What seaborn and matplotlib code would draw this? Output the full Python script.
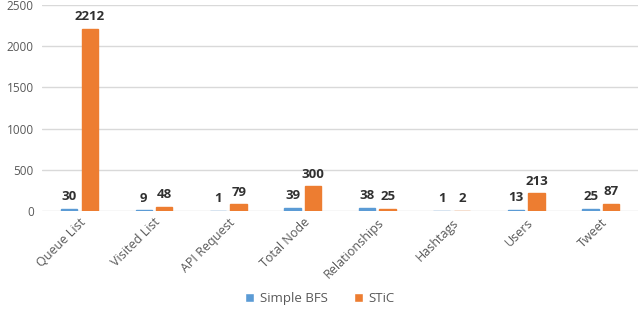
import matplotlib
matplotlib.use("Agg")
from matplotlib import pyplot as plt
import seaborn as sns
import pandas as pd

categories = ['Queue List', 'Visited List', 'API Request', 'Total Node',
              'Relationships', 'Hashtags', 'Users', 'Tweet']
simple_bfs = [30, 9, 1, 39, 38, 1, 13, 25]
stic = [2212, 48, 79, 300, 25, 2, 213, 87]
series = ['Simple BFS', 'STiC']
yticks = [0, 500, 1000, 1500, 2000, 2500]

df = pd.DataFrame({
    'Category': categories * 2,
    'Value': simple_bfs + stic,
    'Series': [series[0]] * len(categories) + [series[1]] * len(categories),
})

sns.set_style('white')
plt.rcParams['font.family'] = ['Open Sans', 'DejaVu Sans']
text_color = '#595959'
colors = ['#5B9BD5', '#ED7D31']

fig = plt.figure(figsize=(6.4, 3.14), dpi=100)
ax = fig.add_axes([0.066, 0.328, 0.931, 0.656])
sns.barplot(data=df, x='Category', y='Value', hue='Series',
            palette=colors, width=0.55, gap=0.2, saturation=1, ax=ax,
            legend=True)

# thin outline in the bar colour so the tiny values stay visible
for cont, c in zip(ax.containers, colors):
    for p in cont:
        p.set_edgecolor(c)
        p.set_linewidth(1)
    ax.bar_label(cont, padding=4, fontsize=9.5, fontweight='bold', color='#303030')

ax.set_ylim(0, 2500)
ax.set_yticks(yticks)
ax.set_xlim(-0.5, len(categories) - 0.5)
ax.yaxis.grid(True, color='#D9D9D9', linewidth=1)
ax.set_axisbelow(True)
for s in ax.spines.values():
    s.set_visible(False)
ax.set_xlabel('')
ax.set_ylabel('')
ax.tick_params(axis='both', length=0, labelsize=9, colors=text_color)
ax.tick_params(axis='y', pad=6, labelsize=8.5)
plt.setp(ax.get_xticklabels(), rotation=45, ha='right', rotation_mode='anchor')

handles, labels = ax.get_legend_handles_labels()
ax.get_legend().remove()
fig.legend(handles, labels, loc='lower center', bbox_to_anchor=(0.5, -0.01),
           ncol=2, frameon=False, fontsize=9.5, handlelength=0.7, handleheight=0.7,
           columnspacing=2, handletextpad=0.4, labelcolor=text_color)

fig.savefig('out.png', dpi=100)
